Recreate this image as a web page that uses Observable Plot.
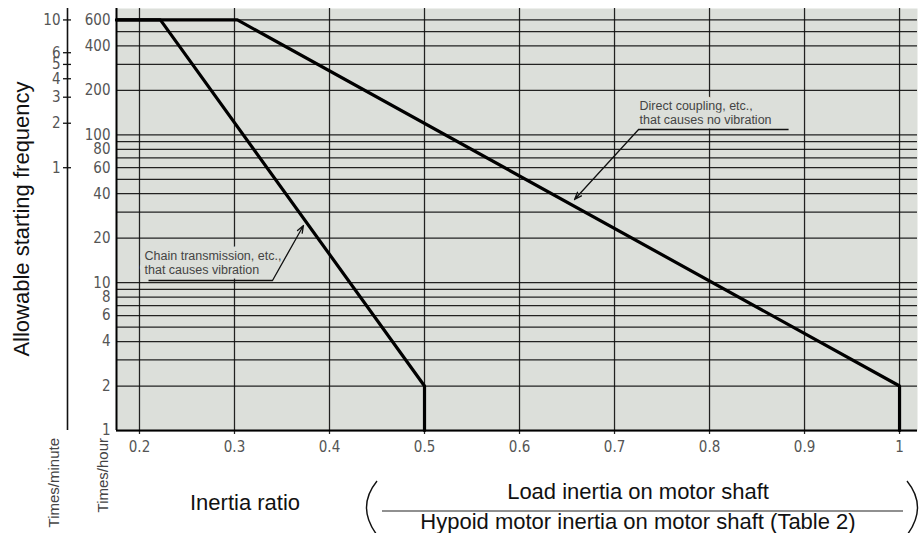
<!DOCTYPE html>
<html>
<head>
<meta charset="utf-8">
<script src="https://cdn.jsdelivr.net/npm/d3@7"></script>
<script src="https://cdn.jsdelivr.net/npm/@observablehq/plot@0.6"></script>
<style>
  html, body { margin: 0; padding: 0; background: #fff; }
  #chart svg { display: block; }
</style>
</head>
<body>
<div id="chart"></div>
<script>
// ---- data ----
const xDomain = [0.1758, 1.0189];
const yDomain = [1, 717];
const xTicks = [0.2, 0.3, 0.4, 0.5, 0.6, 0.7, 0.8, 0.9, 1];
const xTickLabels = ["0.2", "0.3", "0.4", "0.5", "0.6", "0.7", "0.8", "0.9", "1"];
const yTicksHour = [1, 2, 4, 6, 8, 10, 20, 40, 60, 80, 100, 200, 400, 600];
const yTicksMinute = [1, 2, 3, 4, 5, 6, 10];
const yGrid = [1, 2, 3, 4, 5, 6, 7, 8, 9, 10, 20, 30, 40, 50, 60, 70, 80, 90, 100, 200, 300, 400, 500, 600];

// curve 1: chain transmission (vibration)
const chainX = [0.1758, 0.222, 0.5, 0.5];
const chainY = [600, 600, 2, 1];
// curve 2: direct coupling (no vibration)
const directX = [0.1758, 0.303, 1.0, 1.0];
const directY = [600, 600, 2, 1];

// annotations
const noteText = ["Chain transmission, etc.,\nthat causes vibration", "Direct coupling, etc.,\nthat causes no vibration"];
const noteX = [0.2053, 0.7263];
const noteY = [13.7, 141.8];
const underX1 = [0.2095, 0.7253];
const underX2 = [0.340, 0.8832];
const underY = [10.35, 108.8];
const arrowFromX = [0.340, 0.7253];
const arrowTipX = [0.3726, 0.6579];
const arrowTipY = [24.4, 36.6];

const yTitle = "Allowable starting frequency";
const minuteTitle = "Times/minute";
const hourTitle = "Times/hour";
const xTitle = "Inertia ratio";
const fracTop = "Load inertia on motor shaft";
const fracBottom = "Hypoid motor inertia on motor shaft (Table 2)";

// ---- chart ----
const narrow = "'Liberation Sans Narrow', 'DejaVu Sans Condensed', 'Roboto', sans-serif";
const sans = "'Liberation Sans', Arial, sans-serif";
const bg = "#dcdfda";
const idx = d3.range(noteText.length);
const chain = d3.range(chainX.length);
const direct = d3.range(directX.length);

const svg = Plot.plot({
  width: 920,
  height: 533,
  marginLeft: 116,
  marginRight: 3,
  marginTop: 8,
  marginBottom: 103,
  style: { background: "transparent", fontFamily: sans },
  x: { domain: xDomain, axis: null },
  y: { type: "log", domain: yDomain, axis: null },
  marks: [
    Plot.frame({ fill: bg, stroke: null }),
    Plot.ruleY(yGrid, { stroke: "#111", strokeWidth: 1.25, strokeOpacity: 0.92 }),
    Plot.ruleX(xTicks, { stroke: "#111", strokeWidth: 1.25, strokeOpacity: 0.92, insetBottom: -4 }),
    Plot.ruleX([xDomain[0]], { stroke: "#000", strokeWidth: 2 }),
    Plot.ruleY([yDomain[0]], { stroke: "#000", strokeWidth: 2 }),
    // annotation text with halo erasing grid
    Plot.text(idx, {
      x: i => noteX[i], y: i => noteY[i], text: i => noteText[i],
      textAnchor: "start", lineAnchor: "middle", lineHeight: 1.15,
      fontSize: 12.5, fontFamily: sans, fill: "#444",
      stroke: bg, strokeWidth: 9
    }),
    Plot.link(idx, {
      x1: i => underX1[i], x2: i => underX2[i], y1: i => underY[i], y2: i => underY[i],
      stroke: "#111", strokeWidth: 1.4
    }),
    Plot.arrow(idx, {
      x1: i => arrowFromX[i], y1: i => underY[i], x2: i => arrowTipX[i], y2: i => arrowTipY[i],
      stroke: "#111", strokeWidth: 1.3, headLength: 9, headAngle: 40
    }),
    Plot.line(chain, { x: i => chainX[i], y: i => chainY[i], stroke: "#000", strokeWidth: 3.2, strokeLinejoin: "miter" }),
    Plot.line(direct, { x: i => directX[i], y: i => directY[i], stroke: "#000", strokeWidth: 3.2, strokeLinejoin: "miter" }),
    // main y axis labels (times/hour)
    Plot.text(yTicksHour, {
      y: d => d, text: d => String(d), frameAnchor: "left", dx: -6, textAnchor: "end",
      fontSize: 15, fontFamily: narrow, fill: "#555"
    }),
    // secondary y axis (times/minute)
    Plot.ruleX([xDomain[0]], { y1: yDomain[0], y2: yDomain[1], dx: -49, stroke: "#111", strokeWidth: 1.6 }),
    Plot.axisY(yTicksMinute.map(d => d * 60), {
      anchor: "left", tickSize: 8, dx: -45, label: null,
      tickFormat: () => "", color: "#111", strokeWidth: 1.3
    }),
    Plot.text(yTicksMinute, {
      y: d => d * 60, text: d => String(d), frameAnchor: "left", dx: -56, textAnchor: "end",
      fontSize: 15, fontFamily: narrow, fill: "#555"
    }),
    // x axis labels
    Plot.text(xTicks, {
      x: d => d, text: (d, i) => xTickLabels[i], frameAnchor: "bottom", dy: 17, lineAnchor: "middle",
      fontSize: 15, fontFamily: narrow, fill: "#555", ariaLabel: "x-tick-labels"
    })
  ]
});

document.getElementById("chart").appendChild(svg);

// letter spacing on x tick labels
d3.select(svg).selectAll('g[aria-label="x-tick-labels"] text')
  .attr("letter-spacing", "2px").attr("dx", "1px");

// titles
const s = d3.select(svg);
s.append("text")
  .attr("transform", "translate(29,219) rotate(-90)")
  .attr("text-anchor", "middle")
  .attr("font-family", sans).attr("font-size", 22).attr("fill", "#111")
  .text(yTitle);
s.append("text")
  .attr("transform", "translate(59,438) rotate(-90)")
  .attr("text-anchor", "end")
  .attr("font-family", sans).attr("font-size", 15).attr("fill", "#444")
  .text(minuteTitle);
s.append("text")
  .attr("transform", "translate(108,438) rotate(-90)")
  .attr("text-anchor", "end")
  .attr("font-family", sans).attr("font-size", 15).attr("fill", "#444")
  .text(hourTitle);
s.append("text")
  .attr("x", 245).attr("y", 510)
  .attr("font-family", sans).attr("font-size", 22).attr("fill", "#111")
  .text(xTitle);
s.append("path")
  .attr("d", "M377,481 Q356,507 377,535")
  .attr("fill", "none").attr("stroke", "#111").attr("stroke-width", 1.4);
s.append("path")
  .attr("d", "M907,481 Q928,507 907,535")
  .attr("fill", "none").attr("stroke", "#111").attr("stroke-width", 1.4);
s.append("line")
  .attr("x1", 382).attr("x2", 903).attr("y1", 511).attr("y2", 511)
  .attr("stroke", "#222").attr("stroke-width", 1.2);
s.append("text")
  .attr("x", 638).attr("y", 499).attr("text-anchor", "middle")
  .attr("font-family", sans).attr("font-size", 22).attr("fill", "#111")
  .text(fracTop);
s.append("text")
  .attr("x", 638).attr("y", 529).attr("text-anchor", "middle")
  .attr("font-family", sans).attr("font-size", 22).attr("fill", "#111")
  .text(fracBottom);
</script>
</body>
</html>
